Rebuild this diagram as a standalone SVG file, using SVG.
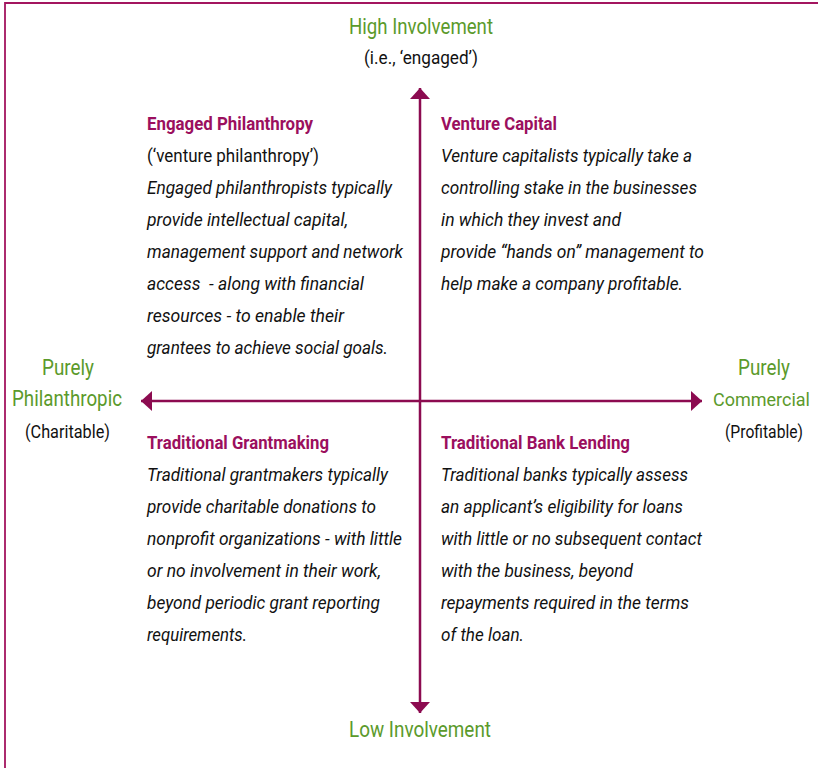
<svg xmlns="http://www.w3.org/2000/svg" width="818" height="768" viewBox="0 0 818 768">
<style>
text{font-family:Roboto,"Liberation Sans",sans-serif;}
.head{font-size:18.5px;font-weight:bold;fill:#9b0f5e;}
.body{font-size:18.5px;font-style:italic;fill:#111;}
.plain{font-size:18.5px;fill:#111;}
.green{font-size:22px;fill:#5b9a2b;}
.sub{font-size:17.5px;fill:#111;}
.axis{stroke:#8c0b50;stroke-width:2.5;fill:none;}
</style>
<defs>
<marker id="ah" viewBox="0 0 11 20" refX="11" refY="10" markerWidth="11" markerHeight="20" markerUnits="userSpaceOnUse" orient="auto-start-reverse">
<path d="M0,0 L11,10 L0,20 Z" fill="#8c0b50"/>
</marker>
</defs>
<rect width="818" height="768" fill="#fff"/>
<path d="M5,768 V3 H818" fill="none" stroke="#a3155f" stroke-width="1.8"/>
<g id="connectors">
<line class="axis" x1="420" y1="88" x2="420" y2="713" marker-start="url(#ah)" marker-end="url(#ah)"/>
<line class="axis" x1="141" y1="401" x2="702" y2="401" marker-start="url(#ah)" marker-end="url(#ah)"/>
</g>
<g id="high-involvement">
<text class="green" x="349" y="34" textLength="144" lengthAdjust="spacingAndGlyphs">High Involvement</text>
<text class="sub" x="364" y="64" textLength="114" lengthAdjust="spacingAndGlyphs">(i.e., ‘engaged’)</text>
</g>
<g id="low-involvement">
<text class="green" x="349" y="737" textLength="142" lengthAdjust="spacingAndGlyphs">Low Involvement</text>
</g>
<g id="purely-philanthropic">
<text class="green" x="42" y="375" textLength="52" lengthAdjust="spacingAndGlyphs">Purely</text>
<text class="green" x="12" y="406" textLength="110" lengthAdjust="spacingAndGlyphs">Philanthropic</text>
<text class="sub" x="25" y="438" textLength="85" lengthAdjust="spacingAndGlyphs">(Charitable)</text>
</g>
<g id="purely-commercial">
<text class="green" x="738" y="375" textLength="52" lengthAdjust="spacingAndGlyphs">Purely</text>
<text class="green" x="713" y="406" style="font-size:19px" textLength="97" lengthAdjust="spacingAndGlyphs">Commercial</text>
<text class="sub" x="725" y="438" textLength="78" lengthAdjust="spacingAndGlyphs">(Profitable)</text>
</g>
<g id="engaged-philanthropy">
<text class="head" x="147" y="130" textLength="166" lengthAdjust="spacingAndGlyphs">Engaged Philanthropy</text>
<text class="plain" x="147" y="162" textLength="172" lengthAdjust="spacingAndGlyphs">(‘venture philanthropy’)</text>
<text class="body" x="147" y="194" textLength="245" lengthAdjust="spacingAndGlyphs">Engaged philanthropists typically</text>
<text class="body" x="147" y="226" textLength="201" lengthAdjust="spacingAndGlyphs">provide intellectual capital,</text>
<text class="body" x="147" y="258" textLength="256" lengthAdjust="spacingAndGlyphs">management support and network</text>
<text class="body" x="147" y="290" textLength="217" lengthAdjust="spacingAndGlyphs" xml:space="preserve">access  - along with financial</text>
<text class="body" x="147" y="322" textLength="197" lengthAdjust="spacingAndGlyphs">resources - to enable their</text>
<text class="body" x="147" y="354" textLength="241" lengthAdjust="spacingAndGlyphs">grantees to achieve social goals.</text>
</g>
<g id="venture-capital">
<text class="head" x="441" y="130" textLength="116" lengthAdjust="spacingAndGlyphs">Venture Capital</text>
<text class="body" x="441" y="162" textLength="251" lengthAdjust="spacingAndGlyphs">Venture capitalists typically take a</text>
<text class="body" x="441" y="194" textLength="256" lengthAdjust="spacingAndGlyphs">controlling stake in the businesses</text>
<text class="body" x="441" y="226" textLength="180" lengthAdjust="spacingAndGlyphs">in which they invest and</text>
<text class="body" x="441" y="258" textLength="263" lengthAdjust="spacingAndGlyphs">provide “hands on” management to</text>
<text class="body" x="441" y="290" textLength="242" lengthAdjust="spacingAndGlyphs">help make a company profitable.</text>
</g>
<g id="traditional-grantmaking">
<text class="head" x="147" y="449" textLength="182" lengthAdjust="spacingAndGlyphs">Traditional Grantmaking</text>
<text class="body" x="147" y="481" textLength="241" lengthAdjust="spacingAndGlyphs">Traditional grantmakers typically</text>
<text class="body" x="147" y="513" textLength="229" lengthAdjust="spacingAndGlyphs">provide charitable donations to</text>
<text class="body" x="147" y="545" textLength="255" lengthAdjust="spacingAndGlyphs">nonprofit organizations - with little</text>
<text class="body" x="147" y="577" textLength="234" lengthAdjust="spacingAndGlyphs">or no involvement in their work,</text>
<text class="body" x="147" y="609" textLength="233" lengthAdjust="spacingAndGlyphs">beyond periodic grant reporting</text>
<text class="body" x="147" y="641" textLength="100" lengthAdjust="spacingAndGlyphs">requirements.</text>
</g>
<g id="traditional-bank-lending">
<text class="head" x="441" y="449" textLength="189" lengthAdjust="spacingAndGlyphs">Traditional Bank Lending</text>
<text class="body" x="441" y="481" textLength="247" lengthAdjust="spacingAndGlyphs">Traditional banks typically assess</text>
<text class="body" x="441" y="513" textLength="242" lengthAdjust="spacingAndGlyphs">an applicant’s eligibility for loans</text>
<text class="body" x="441" y="545" textLength="261" lengthAdjust="spacingAndGlyphs">with little or no subsequent contact</text>
<text class="body" x="441" y="577" textLength="192" lengthAdjust="spacingAndGlyphs">with the business, beyond</text>
<text class="body" x="441" y="609" textLength="248" lengthAdjust="spacingAndGlyphs">repayments required in the terms</text>
<text class="body" x="441" y="641" textLength="83" lengthAdjust="spacingAndGlyphs">of the loan.</text>
</g>
</svg>
